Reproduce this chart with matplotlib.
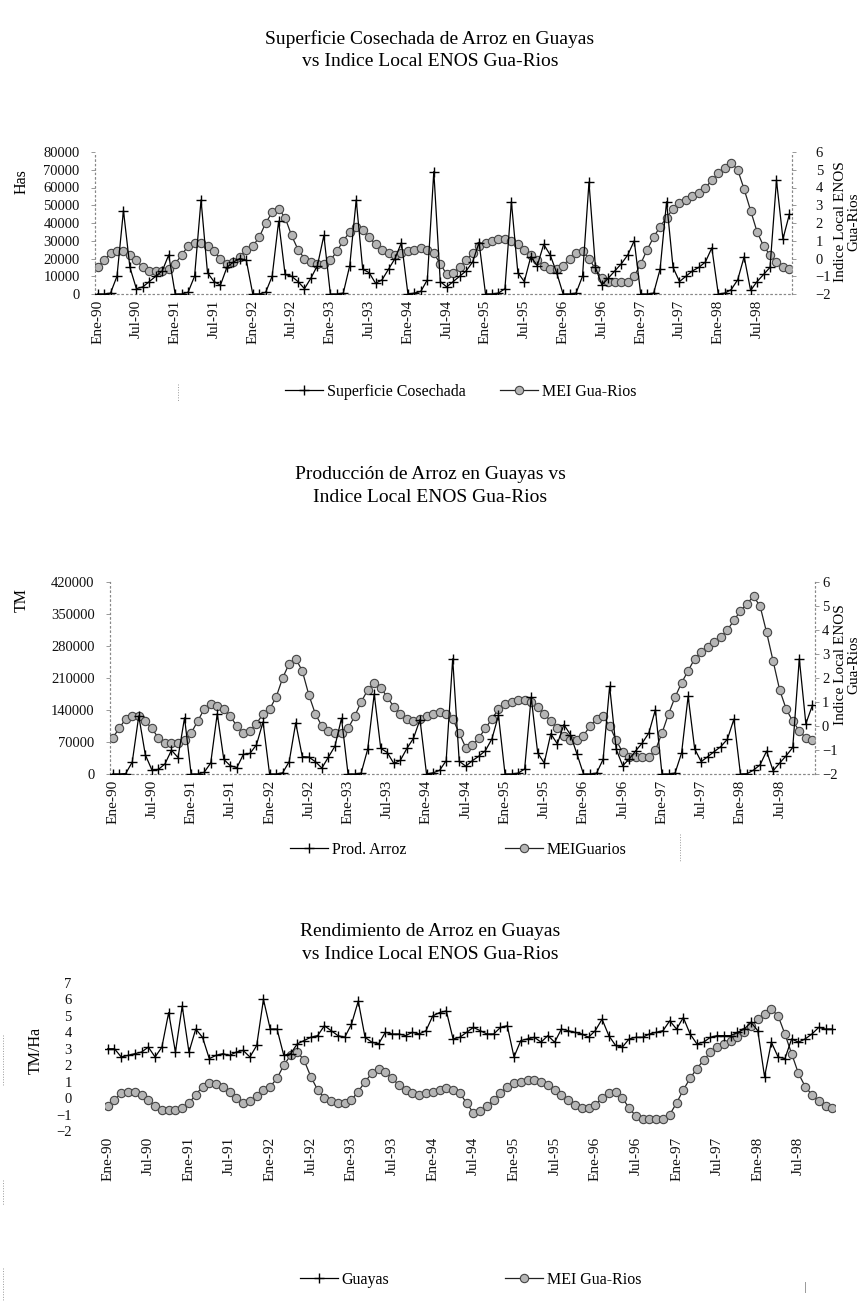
import matplotlib
matplotlib.use("Agg")
import matplotlib.pyplot as plt
from matplotlib.lines import Line2D

plt.rcParams['font.family'] = ['Liberation Serif', 'DejaVu Serif']

# ---- data: monthly, Ene-90 .. Dic-98 ----
meses = ['Ene', 'Feb', 'Mar', 'Abr', 'May', 'Jun', 'Jul', 'Ago', 'Sep', 'Oct', 'Nov', 'Dic']
anios = [90, 91, 92, 93, 94, 95, 96, 97, 98]
fechas = [f"{m}-{a:02d}" for a in anios for m in meses]
etiquetas_x = [f for f in fechas if f.startswith(('Ene', 'Jul'))]

# Superficie cosechada (Has)
superficie = [
    0, 0, 500, 10000, 47000, 15000, 3000, 4000, 7000, 10000, 13000, 22000,
    0, 0, 1000, 10000, 53000, 12000, 7000, 5000, 15000, 18000, 20000, 19000,
    0, 0, 1000, 10000, 41000, 11000, 10000, 7000, 3000, 9000, 16000, 33000,
    0, 0, 500, 16000, 53000, 14000, 12000, 6000, 8000, 14000, 20000, 29000,
    0, 500, 1500, 8000, 69000, 7000, 4000, 7000, 10000, 13000, 18000, 29000,
    0, 0, 500, 3000, 52000, 12000, 7000, 21000, 16000, 28000, 22000, 12000,
    0, 0, 500, 10000, 63000, 15000, 5000, 9000, 13000, 17000, 22000, 30000,
    0, 0, 500, 14000, 52000, 15000, 7000, 10000, 13000, 15000, 18000, 26000,
    0, 500, 2500, 8000, 21000, 2000, 7000, 11000, 15000, 64000, 31000, 45000,
]

# Produccion de arroz (TM)
produccion = [
    0, 0, 1000, 26000, 127000, 42000, 9000, 10000, 22000, 52000, 36000, 123000,
    0, 0, 3700, 24000, 132000, 32000, 18000, 14000, 43000, 45000, 64000, 114000,
    0, 0, 2600, 27000, 112000, 38000, 37000, 27000, 13000, 37000, 61000, 122000,
    0, 0, 1900, 54000, 175000, 56000, 47000, 23000, 30000, 56000, 78000, 119000,
    0, 2600, 8000, 29000, 252000, 28000, 17000, 29000, 39000, 51000, 77000, 128000,
    0, 0, 1800, 11000, 168000, 46000, 24000, 88000, 66000, 108000, 86000, 44000,
    0, 0, 1900, 32000, 192000, 54000, 18000, 33000, 51000, 68000, 90000, 141000,
    0, 0, 2000, 46000, 170000, 55000, 27000, 38000, 49000, 60000, 76000, 120000,
    0, 650, 8500, 20000, 50000, 7000, 24000, 40000, 58000, 252000, 110000, 150000,
]

# Rendimiento Guayas (TM/Ha)
rendimiento = [
    3.0, 3.0, 2.5, 2.6, 2.7, 2.8, 3.1, 2.5, 3.1, 5.2, 2.8, 5.6,
    2.8, 4.2, 3.7, 2.4, 2.6, 2.7, 2.6, 2.8, 2.9, 2.5, 3.2, 6.0,
    4.2, 4.2, 2.6, 2.7, 3.3, 3.5, 3.7, 3.8, 4.4, 4.1, 3.8, 3.7,
    4.5, 5.9, 3.7, 3.4, 3.3, 4.0, 3.9, 3.9, 3.8, 4.0, 3.9, 4.1,
    5.0, 5.2, 5.3, 3.6, 3.7, 4.0, 4.3, 4.1, 3.9, 3.9, 4.3, 4.4,
    2.5, 3.5, 3.6, 3.7, 3.4, 3.8, 3.4, 4.2, 4.1, 4.0, 3.9, 3.7,
    4.1, 4.8, 3.8, 3.2, 3.1, 3.6, 3.7, 3.7, 3.9, 4.0, 4.1, 4.7,
    4.2, 4.9, 3.9, 3.3, 3.4, 3.7, 3.8, 3.8, 3.8, 4.0, 4.2, 4.6,
    4.1, 1.3, 3.4, 2.5, 2.4, 3.6, 3.4, 3.6, 3.9, 4.3, 4.2, 4.2,
]

# Indice local ENOS (MEI Gua-Rios)
mei = [
    -0.5, -0.1, 0.3, 0.4, 0.4, 0.2, -0.1, -0.5, -0.7, -0.7, -0.7, -0.6,
    -0.3, 0.2, 0.7, 0.9, 0.85, 0.7, 0.4, 0.0, -0.3, -0.2, 0.1, 0.5,
    0.7, 1.2, 2.0, 2.6, 2.8, 2.3, 1.3, 0.5, 0.0, -0.2, -0.3, -0.3,
    -0.1, 0.4, 1.0, 1.5, 1.8, 1.6, 1.2, 0.8, 0.5, 0.3, 0.2, 0.3,
    0.4, 0.5, 0.6, 0.5, 0.3, -0.3, -0.9, -0.8, -0.5, -0.1, 0.3, 0.7,
    0.9, 1.0, 1.1, 1.1, 1.0, 0.8, 0.5, 0.2, -0.1, -0.4, -0.6, -0.6,
    -0.4, 0.0, 0.3, 0.4, 0.0, -0.6, -1.1, -1.3, -1.3, -1.3, -1.3, -1.0,
    -0.3, 0.5, 1.2, 1.8, 2.3, 2.8, 3.1, 3.3, 3.5, 3.7, 4.0, 4.4,
    4.8, 5.1, 5.4, 5.0, 3.9, 2.7, 1.5, 0.7, 0.2, -0.2, -0.5, -0.6,
]

W, H = 860, 1302
fig = plt.figure(figsize=(W / 100, H / 100), dpi=100)


def rect(left, right, top, bottom):
    return [left / W, 1 - bottom / H, (right - left) / W, (bottom - top) / H]


def fx(px):
    return px / W


def fy(py):
    return 1 - py / H


x = list(range(len(fechas)))
pos_etq = [fechas.index(e) for e in etiquetas_x]

plus_kw = dict(color='black', lw=0.9, marker='+', ms=6.5, mew=1.0)
circ_kw = dict(color='#222222', lw=0.9, marker='o', ms=6, mfc='#b5b5b5',
               mec='#444444', mew=0.8)

axis_col = '#888888'
TICK_FS = 10.5


def style_axes(ax):
    ax.spines['top'].set_visible(False)
    for s in ['left', 'bottom', 'right']:
        ax.spines[s].set_linestyle((0, (1, 3)))
        ax.spines[s].set_color(axis_col)
        ax.spines[s].set_linewidth(0.8)
    ax.tick_params(axis='both', colors=axis_col, labelcolor='#111111',
                   labelsize=TICK_FS, length=3, width=0.6)
    ax.set_xlim(-0.4, len(fechas) - 0.6)
    ax.set_xticks(pos_etq)
    ax.set_xticklabels(etiquetas_x, rotation=90, fontsize=11)
    ax.tick_params(axis='x', length=0, pad=4)
    ax.patch.set_visible(False)


def title(txt, y):
    fig.text(fx(430), fy(y), txt, ha='center', va='center', fontsize=14,
             linespacing=1.45)


def entrada(kw, label, x0, y0):
    """One legend entry whose line sample starts at pixel x0."""
    fig.legend([Line2D([], [], **kw)], [label], loc='center left',
               bbox_to_anchor=(fx(x0), fy(y0)), frameon=False, fontsize=11.5,
               handlelength=2.4, handletextpad=0.2, borderpad=0,
               borderaxespad=0)


def trazo(x0, y0, y1, ls='-'):
    fig.add_artist(Line2D([fx(x0), fx(x0)], [fy(y0), fy(y1)], color='#999999',
                          lw=0.7, ls=ls))


# ---------- Panel 1: Superficie ----------
title("Superficie Cosechada de Arroz en Guayas\nvs Indice Local ENOS Gua-Rios", 50)
ax1 = fig.add_axes(rect(95, 792, 152, 294))
ax1b = ax1.twinx()
ax1.plot(x, superficie, **plus_kw, zorder=3)
ax1b.plot(x, mei, **circ_kw, zorder=2)
ax1.set_ylim(0, 80000)
ax1.set_yticks(range(0, 80001, 10000))
ax1b.set_ylim(-2, 6)
ax1b.set_yticks(range(-2, 7))
style_axes(ax1)
style_axes(ax1b)
ax1.set_zorder(ax1b.get_zorder() + 1)
ax1.tick_params(axis='y', pad=8)
ax1b.tick_params(axis='y', pad=14)
fig.text(fx(22), fy(182), "Has", rotation=90, ha='center', va='center', fontsize=11.5)
fig.text(fx(847), fy(222), "Indice Local ENOS\nGua-Rios", rotation=90,
         ha='center', va='center', fontsize=11, linespacing=1.05)
entrada(plus_kw, "Superficie Cosechada", 285, 392)
entrada(circ_kw, "MEI Gua-Rios", 500, 392)
trazo(178, 384, 401, ':')

# ---------- Panel 2: Produccion ----------
title("Producción de Arroz en Guayas vs\nIndice Local ENOS Gua-Rios", 486)
ax2 = fig.add_axes(rect(110, 815, 582, 774))
ax2b = ax2.twinx()
ax2.plot(x, produccion, **plus_kw, zorder=3)
ax2b.plot(x, mei, **circ_kw, zorder=2)
ax2.set_ylim(0, 420000)
ax2.set_yticks(range(0, 420001, 70000))
ax2b.set_ylim(-2, 6)
ax2b.set_yticks(range(-2, 7))
style_axes(ax2)
style_axes(ax2b)
ax2.set_zorder(ax2b.get_zorder() + 1)
ax2.tick_params(axis='y', pad=8)
ax2b.tick_params(axis='y', pad=2)
fig.text(fx(22), fy(600), "TM", rotation=90, ha='center', va='center', fontsize=11.5)
fig.text(fx(847), fy(665), "Indice Local ENOS\nGua-Rios", rotation=90,
         ha='center', va='center', fontsize=11, linespacing=1.05)
entrada(plus_kw, "Prod. Arroz", 290, 850)
entrada(circ_kw, "MEIGuarios", 505, 850)
trazo(680, 834, 862, ':')

# ---------- Panel 3: Rendimiento ----------
title("Rendimiento de Arroz en Guayas\nvs Indice Local ENOS Gua-Rios", 943)
ax3 = fig.add_axes(rect(105, 835, 983, 1131))
ax3.plot(x, rendimiento, **plus_kw, zorder=3)
ax3.plot(x, mei, **circ_kw, zorder=2)
ax3.set_ylim(-2, 7)
ax3.set_yticks(range(-2, 8))
style_axes(ax3)
ax3.spines['right'].set_visible(False)
ax3.spines['left'].set_visible(False)
ax3.spines['bottom'].set_visible(False)
ax3.tick_params(axis='y', pad=24, length=0)
fig.text(fx(36), fy(1050), "TM/Ha", rotation=90, ha='center', va='center', fontsize=11.5)
entrada(plus_kw, "Guayas", 300, 1280)
entrada(circ_kw, "MEI Gua-Rios", 505, 1280)
trazo(805, 1282, 1292)
trazo(3, 1035, 1085, ':')
trazo(3, 1180, 1205, ':')
trazo(3, 1268, 1300, ':')

fig.savefig("out.png", dpi=100)
